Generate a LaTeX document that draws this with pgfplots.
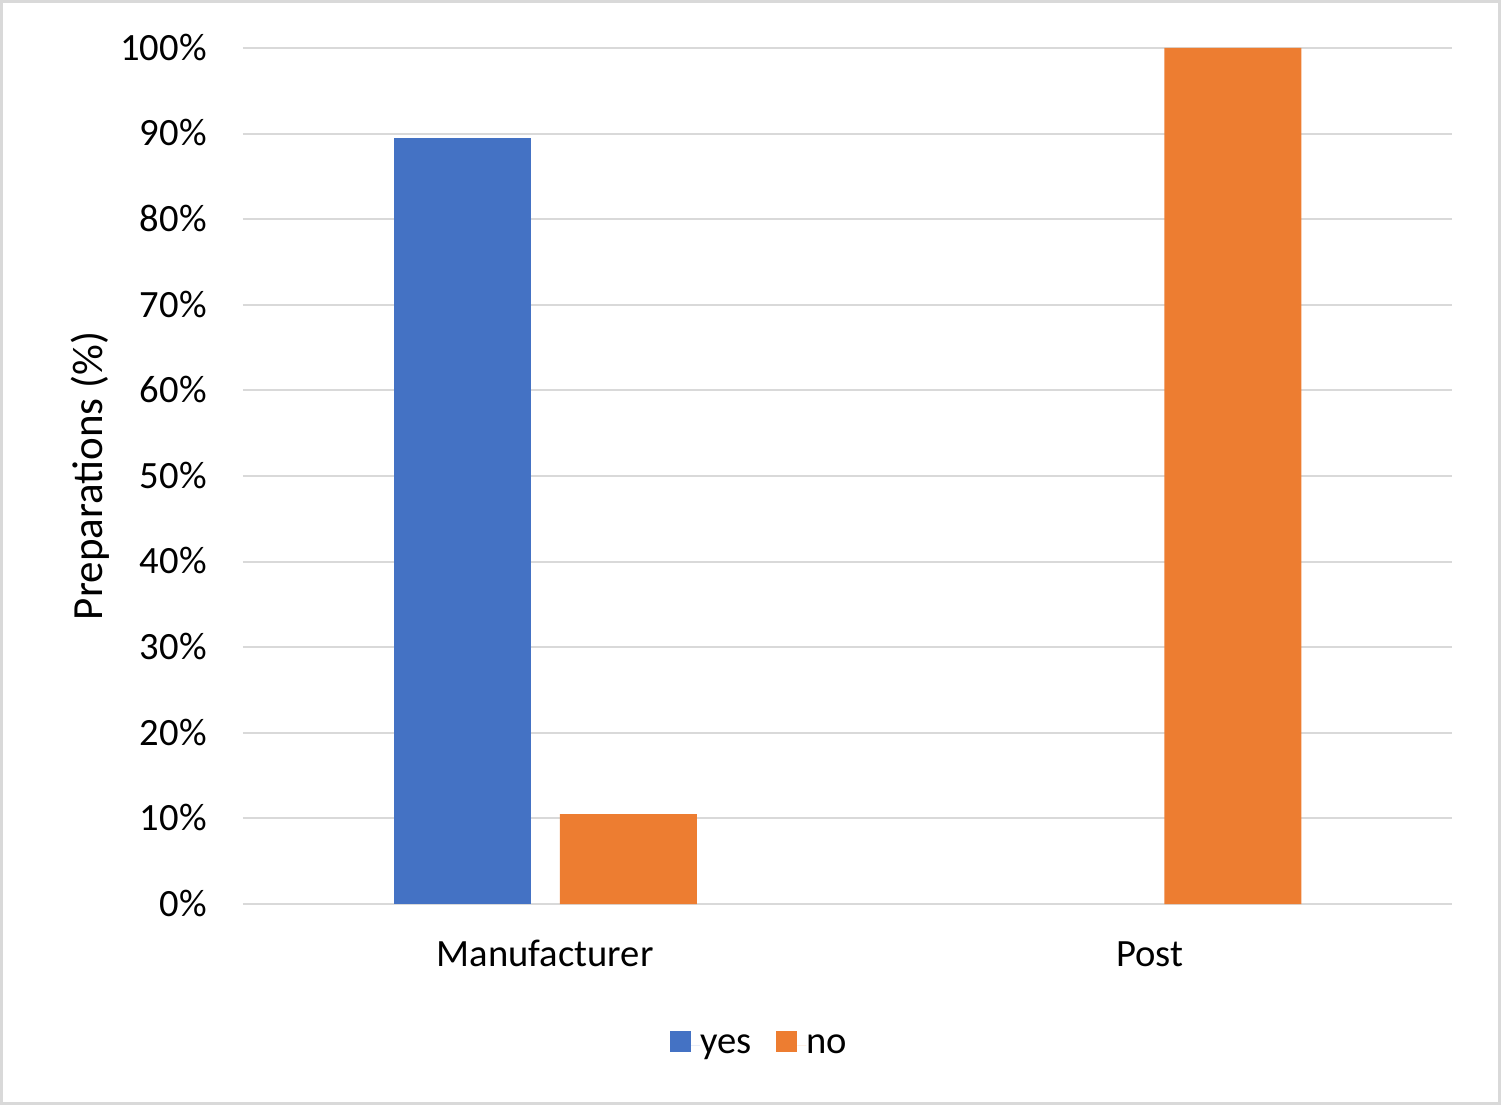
\documentclass[border=0pt]{standalone}
\usepackage{pgfplots}
\pgfplotsset{compat=1.18}
\usepackage{fontspec}
\setmainfont{Carlito}
\definecolor{xblue}{HTML}{4472C4}
\definecolor{xorange}{HTML}{ED7D31}
\definecolor{xgrid}{HTML}{D9D9D9}
\definecolor{xframe}{HTML}{D9D9D9}
\begin{document}
\begin{tikzpicture}
\path[use as bounding box] (0,0) rectangle (750.5pt,552.5pt);
\draw[xframe, line width=1.2pt] (0.8pt,0.8pt) rectangle (749.7pt,551.7pt);
\begin{axis}[
  at={(121.5pt,100.5pt)}, anchor=south west,
  scale only axis, width=604.5pt, height=428pt,
  xmin=-0.5, xmax=1.5, ymin=0, ymax=100,
  axis line style={draw=none},
  major tick style={draw=none},
  ymajorgrids, grid style={xgrid, line width=1pt},
  ytick={0,10,...,100},
  yticklabels={0\%,10\%,20\%,30\%,40\%,50\%,60\%,70\%,80\%,90\%,100\%},
  yticklabel style={anchor=base east, inner sep=0pt, xshift=-18pt, yshift=-6.2pt, font=\fontsize{19.3}{23}\selectfont},
  xtick={0,1}, xticklabels={Manufacturer,Post},
  xticklabel style={anchor=base, inner sep=0pt, yshift=-27pt, font=\fontsize{19.3}{23}\selectfont},
  ylabel={Preparations (\%)},
  ylabel style={at={(axis description cs:-0.1158,0.5)}, anchor=base, inner sep=0pt, font=\fontsize{21.5}{25}\selectfont},
  ybar, bar width=68.5pt,
  legend style={at={(axis description cs:0.4264,-0.1636)}, anchor=center, draw=none, fill=none,
    legend columns=-1, inner sep=0pt, font=\fontsize{19.3}{23}\selectfont,
    /tikz/every even column/.append style={column sep=12.5pt},
    nodes={inner sep=0pt}},
  legend image code/.code={\fill[#1] (0pt,-3.25pt) rectangle (10.5pt,7.25pt);\path (10.5pt,0) -- (15pt,0);},
]
\addplot[ybar, bar shift=-41.5pt, fill=xblue, draw=none] coordinates {(0,89.5)};
\addplot[ybar, bar shift=41.5pt, fill=xorange, draw=none] coordinates {(0,10.5) (1,100)};
\legend{yes,no}
\end{axis}
\end{tikzpicture}
\end{document}
